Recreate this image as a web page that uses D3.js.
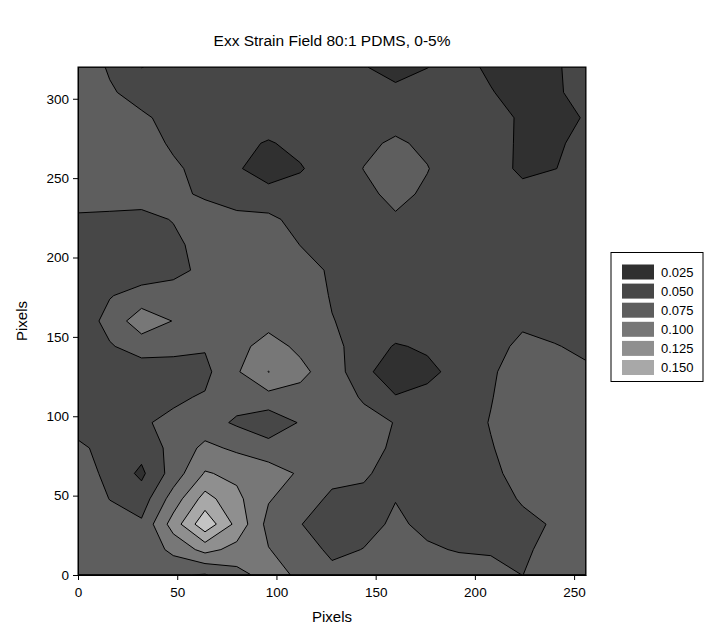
<!DOCTYPE html>
<html>
<head>
<meta charset="utf-8">
<script src="https://cdn.jsdelivr.net/npm/d3@7"></script>
<style>
  html, body { margin: 0; padding: 0; background: #fff; }
  svg { display: block; font-family: "Liberation Sans", Arial, sans-serif; }
</style>
</head>
<body>
<svg id="chart" width="704" height="644"></svg>
<script>
// Sample positions of the strain grid (pixels)
const xNodes = [0, 32, 64, 96, 128, 160, 192, 224, 256];
const yNodes = [0, 32, 64, 96, 128, 160, 192, 224, 256, 288, 320];

// Exx strain at each node, one row per y position (y = 0 first)
const strainY000 = [0.062, 0.0575, 0.048, 0.085, 0.056, 0.058, 0.0587, 0.0499, 0.060];
const strainY032 = [0.060, 0.054, 0.168, 0.067, 0.035, 0.053, 0.039, 0.047, 0.0551];
const strainY064 = [0.0645, 0.020, 0.102, 0.087, 0.0567, 0.046, 0.038, 0.0554, 0.060];
const strainY096 = [0.0425, 0.048, 0.060, 0.0332, 0.0705, 0.049, 0.040, 0.062, 0.065];
const strainY128 = [0.035, 0.0355, 0.044, 0.1005, 0.062, 0.005, 0.033, 0.061, 0.052];
const strainY160 = [0.031, 0.0886, 0.060, 0.0674, 0.0505, 0.0407, 0.035, 0.047, 0.043];
const strainY192 = [0.040, 0.034, 0.0547, 0.068, 0.0474, 0.040, 0.035, 0.035, 0.037];
const strainY224 = [0.0478, 0.047, 0.054, 0.0554, 0.028, 0.047, 0.035, 0.033, 0.035];
const strainY256 = [0.065, 0.0625, 0.0437, 0.012, 0.035, 0.066, 0.036, 0.023, 0.0267];
const strainY288 = [0.065, 0.0545, 0.028, 0.035, 0.038, 0.041, 0.038, 0.023, 0.0252];
const strainY320 = [0.069, 0.0245, 0.037, 0.040, 0.034, 0.018, 0.0313, 0.012, 0.033];
const strainRows = [strainY000, strainY032, strainY064, strainY096, strainY128, strainY160,
                    strainY192, strainY224, strainY256, strainY288, strainY320];

// Contour levels, legend labels and band fills (darkest = below first level)
const levels = [0.025, 0.050, 0.075, 0.100, 0.125, 0.150];
const legendLabels = ["0.025", "0.050", "0.075", "0.100", "0.125", "0.150"];
const bandColors = ["#303030", "#474747", "#5e5e5e", "#777777", "#8f8f8f", "#a8a8a8", "#c4c4c4"];

const xTicks = [0, 50, 100, 150, 200, 250];
const yTicks = [0, 50, 100, 150, 200, 250, 300];

const svg = d3.select("#chart");
const font = "'Liberation Sans', Arial, sans-serif";

const x = d3.scaleLinear().domain([0, 256]).range([78, 586]);
const y = d3.scaleLinear().domain([0, 320]).range([575, 67]);

// Split each grid cell in four (edge midpoints and cell centre) so that
// contour edges can run along the cell diagonals.
const nx = xNodes.length, ny = yNodes.length;
const fx = 2 * nx - 1, fy = 2 * ny - 1;
const fine = new Array(fx * fy);
function node(i, j) { return strainRows[j][i]; }
for (let l = 0; l < fy; l++) {
  for (let k = 0; k < fx; k++) {
    const i0 = Math.floor(k / 2), j0 = Math.floor(l / 2);
    const i1 = Math.min(i0 + (k % 2), nx - 1), j1 = Math.min(j0 + (l % 2), ny - 1);
    fine[l * fx + k] = (node(i0, j0) + node(i1, j0) + node(i0, j1) + node(i1, j1)) / 4;
  }
}
const stepX = (xNodes[nx - 1] - xNodes[0]) / (fx - 1);
const stepY = (yNodes[ny - 1] - yNodes[0]) / (fy - 1);

const contours = d3.contours().size([fx, fy]).thresholds(levels)(fine);

const toData = d3.geoTransform({
  point(cx, cy) {
    const dx = Math.max(0, Math.min(256, (cx - 0.5) * stepX));
    const dy = Math.max(0, Math.min(320, (cy - 0.5) * stepY));
    this.stream.point(x(dx), y(dy));
  }
});
const path = d3.geoPath(toData);

svg.append("defs").append("clipPath").attr("id", "plotClip")
  .append("rect")
  .attr("x", x(0)).attr("y", y(320))
  .attr("width", x(256) - x(0)).attr("height", y(0) - y(320));

const plot = svg.append("g").attr("clip-path", "url(#plotClip)");

// lowest band
plot.append("rect")
  .attr("x", x(0)).attr("y", y(320))
  .attr("width", x(256) - x(0)).attr("height", y(0) - y(320))
  .attr("fill", bandColors[0]);

plot.selectAll("path.band")
  .data(contours)
  .join("path")
  .attr("class", "band")
  .attr("d", path)
  .attr("fill", (d, i) => bandColors[i + 1])
  .attr("stroke", "none");

plot.selectAll("path.line")
  .data(contours)
  .join("path")
  .attr("class", "line")
  .attr("d", path)
  .attr("fill", "none")
  .attr("stroke", "#000")
  .attr("stroke-width", 1)
  .attr("stroke-linejoin", "round");

// frame
svg.append("rect")
  .attr("x", x(0)).attr("y", y(320))
  .attr("width", x(256) - x(0)).attr("height", y(0) - y(320))
  .attr("fill", "none").attr("stroke", "#000").attr("stroke-width", 1);

// axes
const xAxis = svg.append("g")
  .attr("transform", `translate(0,${y(0)})`)
  .call(d3.axisBottom(x).tickValues(xTicks).tickSize(5).tickPadding(7).tickSizeOuter(0));
const yAxis = svg.append("g")
  .attr("transform", `translate(${x(0)},0)`)
  .call(d3.axisLeft(y).tickValues(yTicks).tickSize(5).tickPadding(4).tickSizeOuter(0));
[xAxis, yAxis].forEach(a => {
  a.selectAll("text").attr("font-family", font).attr("font-size", 13.5).attr("fill", "#000");
  a.selectAll("line, path").attr("stroke", "#000");
});

// titles
svg.append("text")
  .attr("x", 332).attr("y", 46)
  .attr("text-anchor", "middle")
  .attr("font-family", font).attr("font-size", 15.5)
  .text("Exx Strain Field 80:1 PDMS, 0-5%");

svg.append("text")
  .attr("x", 332).attr("y", 622)
  .attr("text-anchor", "middle")
  .attr("font-family", font).attr("font-size", 15)
  .text("Pixels");

svg.append("text")
  .attr("transform", `translate(27,${(y(0) + y(320)) / 2}) rotate(-90)`)
  .attr("text-anchor", "middle")
  .attr("font-family", font).attr("font-size", 15)
  .text("Pixels");

// legend
const legend = svg.append("g");
legend.append("rect")
  .attr("x", 611).attr("y", 252.5).attr("width", 92).attr("height", 129)
  .attr("fill", "#fff").attr("stroke", "#000").attr("stroke-width", 1);
const items = legend.selectAll("g.item")
  .data(legendLabels)
  .join("g")
  .attr("class", "item")
  .attr("transform", (d, i) => `translate(622,${264.5 + i * 19.1})`);
items.append("rect")
  .attr("width", 32).attr("height", 15)
  .attr("fill", (d, i) => bandColors[i]);
items.append("text")
  .attr("x", 39).attr("y", 12)
  .attr("font-family", font).attr("font-size", 13)
  .text(d => d);
</script>
</body>
</html>
